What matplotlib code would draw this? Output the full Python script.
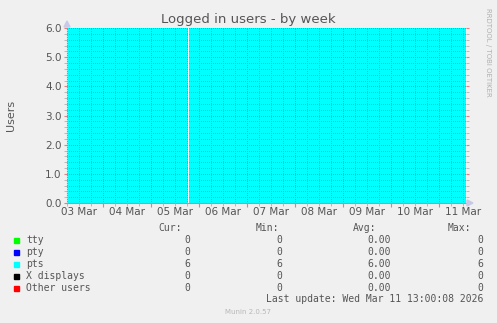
import matplotlib
matplotlib.use("Agg")
import matplotlib.pyplot as plt
import matplotlib.dates as mdates
from matplotlib.ticker import MultipleLocator
import numpy as np
from datetime import datetime, timedelta

# ---- data ----
title = "Logged in users - by week"
ylabel = "Users"
series_names = ["tty", "pty", "pts", "X displays", "Other users"]
series_colors = ["#00FF00", "#0000FF", "#00FFFF", "#000000", "#FF0000"]
cur_vals = ["0", "0", "6", "0", "0"]
min_vals = ["0", "0", "6", "0", "0"]
avg_vals = ["0.00", "0.00", "6.00", "0.00", "0.00"]
max_vals = ["0", "0", "6", "0", "0"]
# pts series: constant 6 with one missing sample
pts_times = ["2026-03-03 06:00", "2026-03-05 18:15", "2026-03-05 18:15",
             "2026-03-05 18:45", "2026-03-05 18:45", "2026-03-11 13:30"]
pts_values = [6, 6, np.nan, np.nan, 6, 6]
x_start = "2026-03-03 06:00"
x_end = "2026-03-11 13:30"
day_labels = ["03 Mar", "04 Mar", "05 Mar", "06 Mar", "07 Mar", "08 Mar",
              "09 Mar", "10 Mar", "11 Mar"]
last_update = "Last update: Wed Mar 11 13:00:08 2026"
footer = "Munin 2.0.57"
y_max = 6.0

W, H = 497, 323
fig = plt.figure(figsize=(W / 100, H / 100), dpi=100, facecolor="#F0F0F0")
L, R, T, B = 67, 466, 28, 203
ax = fig.add_axes([L / W, 1 - B / H, (R - L) / W, (B - T) / H])
ax.set_facecolor("#FFFFFF")

fmt = "%Y-%m-%d %H:%M"
tx = [mdates.date2num(datetime.strptime(t, fmt)) for t in pts_times]
vals = np.array(pts_values, dtype=float)
ax.fill_between(tx, 0, vals, color=series_colors[2], linewidth=0, zorder=1)

x0 = mdates.date2num(datetime.strptime(x_start, fmt))
x1 = mdates.date2num(datetime.strptime(x_end, fmt))
ax.set_xlim(x0, x1)
ax.set_ylim(0, y_max)

# grid
ax.xaxis.set_major_locator(mdates.DayLocator())
ax.xaxis.set_minor_locator(mdates.HourLocator(byhour=[6, 12, 18]))
ax.yaxis.set_major_locator(MultipleLocator(1.0))
ax.yaxis.set_minor_locator(MultipleLocator(0.2))
ax.grid(which="minor", color="#8A9A9A", linestyle=(0, (1, 2)), linewidth=0.6, zorder=2)
ax.grid(which="major", color="#A08888", linestyle=(0, (1, 2)), linewidth=0.6, zorder=2)
ax.set_axisbelow(False)
for tk in (ax.xaxis.get_major_ticks() + ax.yaxis.get_major_ticks()
           + ax.xaxis.get_minor_ticks() + ax.yaxis.get_minor_ticks()):
    tk.gridline.set_antialiased(False)

ax.tick_params(axis="x", which="major", length=3, color="#E08080", width=0.8,
               labelbottom=False, direction="out")
ax.tick_params(axis="x", which="minor", length=2, color="#B0B0B0", width=0.6,
               direction="out")
ax.tick_params(axis="y", which="major", length=2, color="#E08080", width=0.8,
               labelsize=7.5, labelcolor="#555555", pad=2, right=True, direction="out")
ax.tick_params(axis="y", which="minor", length=2, color="#B0B0B0", width=0.6,
               right=True, direction="out")
ax.yaxis.set_major_formatter(matplotlib.ticker.FormatStrFormatter("%.1f"))

for s in ["top", "right"]:
    ax.spines[s].set_visible(False)
ax.spines["bottom"].set_color("#E08080")
ax.spines["bottom"].set_linewidth(0.8)
ax.spines["left"].set_color("#C8C8D8")
ax.spines["left"].set_linewidth(0.8)

# day labels at noon of each day
day0 = datetime(2026, 3, 3, 12, 0)
for i, lab in enumerate(day_labels):
    xd = mdates.date2num(day0 + timedelta(days=i))
    ax.text(xd, -(212 - B) / (B - T), lab, ha="center", va="center", fontsize=7.5,
            color="#555555", transform=ax.get_xaxis_transform(), clip_on=False)

# arrows
fig.patches.append(matplotlib.patches.Polygon(
    [[(L - 3) / W, 1 - (T - 1) / H], [(L + 3) / W, 1 - (T - 1) / H], [L / W, 1 - (T - 7) / H]],
    closed=True, transform=fig.transFigure, color="#C8C8E8"))
fig.patches.append(matplotlib.patches.Polygon(
    [[(R + 1) / W, 1 - (B - 3) / H], [(R + 1) / W, 1 - (B + 3) / H], [(R + 7) / W, 1 - B / H]],
    closed=True, transform=fig.transFigure, color="#C8C8E8"))

def ftext(x, y, s, **kw):
    fig.text(x / W, 1 - y / H, s, **kw)

ftext(248, 19, title, ha="center", va="center", fontsize=9.5, color="#555555")
ftext(11, 115, ylabel, ha="center", va="center", rotation=90, fontsize=8, color="#555555")
ftext(488, 52, "RRDTOOL / TOBI OETIKER", ha="center", va="center", rotation=270,
      fontsize=5, color="#B0B0B0")

mono = dict(family="DejaVu Sans Mono", fontsize=7, color="#555555", va="center")
ftext(182, 228, "Cur:", ha="right", **mono)
ftext(279, 228, "Min:", ha="right", **mono)
ftext(376, 228, "Avg:", ha="right", **mono)
ftext(471, 228, "Max:", ha="right", **mono)
row_y = [240, 252, 264, 276, 288]
for i, name in enumerate(series_names):
    y = row_y[i]
    fig.patches.append(matplotlib.patches.Rectangle(
        (14 / W, 1 - (y + 2.5) / H), 5 / W, 5 / H, transform=fig.transFigure,
        color=series_colors[i]))
    ftext(26, y, name, ha="left", **mono)
    ftext(190, y, cur_vals[i], ha="right", **mono)
    ftext(282, y, min_vals[i], ha="right", **mono)
    ftext(391, y, avg_vals[i], ha="right", **mono)
    ftext(483, y, max_vals[i], ha="right", **mono)
ftext(483, 299, last_update, ha="right", **mono)
ftext(248, 312, footer, ha="center", va="center", fontsize=5, color="#B8B8B8")

fig.savefig("out.png", dpi=100, facecolor=fig.get_facecolor())
